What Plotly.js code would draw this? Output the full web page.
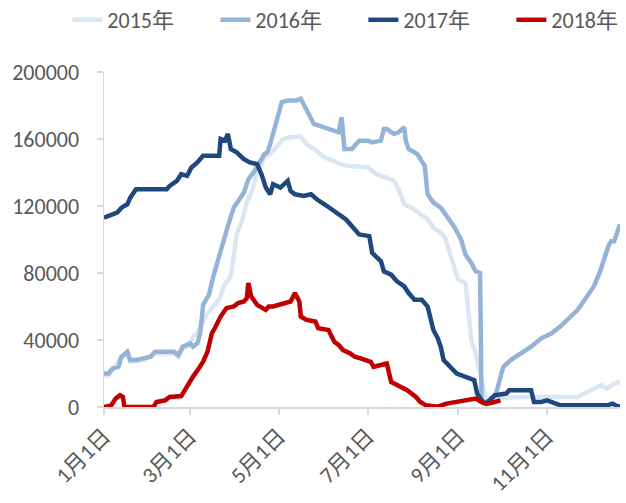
<!DOCTYPE html>
<html>
<head>
<meta charset="utf-8">
<script src="https://cdn.plot.ly/plotly-3.0.1.min.js"></script>
<style>html,body{margin:0;padding:0;background:#fff;}#chart{width:626px;height:503px;}</style>
</head>
<body>
<div id="chart"></div>
<script>
const seriesNames = ['2015年', '2016年', '2017年', '2018年'];
const tickVals = ['2017-01-01', '2017-03-01', '2017-05-01', '2017-07-01', '2017-09-01', '2017-11-01'];
const tickText = ['1月1日', '3月1日', '5月1日', '7月1日', '9月1日', '11月1日'];

const d15 = ['2017-01-01','2017-01-04','2017-01-07','2017-01-12','2017-01-17','2017-01-19','2017-01-28','2017-02-05','2017-02-18','2017-02-21','2017-02-24','2017-03-01','2017-03-03','2017-03-06','2017-03-09','2017-03-13','2017-03-17','2017-03-21','2017-03-24','2017-03-29','2017-03-31','2017-04-02','2017-04-06','2017-04-09','2017-04-13','2017-04-16','2017-04-18','2017-04-21','2017-04-25','2017-04-30','2017-05-04','2017-05-09','2017-05-16','2017-05-19','2017-05-23','2017-05-27','2017-06-01','2017-06-08','2017-06-12','2017-06-17','2017-07-01','2017-07-07','2017-07-14','2017-07-19','2017-07-22','2017-07-26','2017-07-31','2017-08-06','2017-08-11','2017-08-15','2017-08-20','2017-08-23','2017-08-26','2017-08-29','2017-09-01','2017-09-06','2017-09-08','2017-09-10','2017-09-13','2017-09-15','2017-09-18','2017-09-20','2017-09-22','2017-10-16','2017-11-10','2017-11-22','2017-11-24','2017-12-01','2017-12-05','2017-12-08','2017-12-12','2017-12-17','2017-12-21'];
const v15 = [19000,19000,22000,29000,32000,27000,28000,32000,32000,30000,35000,37000,42000,44000,50000,56000,60000,64000,72000,78000,90000,103000,112000,122000,130000,140500,143000,149000,151000,156000,160000,161000,161500,158000,155000,153000,149000,147000,145000,144000,143000,139000,137000,135000,130000,121000,119000,115000,112000,107000,104000,101000,92000,83000,76000,74000,58000,40000,32000,23000,12000,6000,5000,6000,6000,6000,7000,10000,12000,13000,11000,14000,15000];

const d16 = ['2017-01-01','2017-01-04','2017-01-07','2017-01-11','2017-01-13','2017-01-17','2017-01-19','2017-01-23','2017-01-28','2017-02-02','2017-02-05','2017-02-18','2017-02-21','2017-02-24','2017-03-01','2017-03-03','2017-03-06','2017-03-08','2017-03-10','2017-03-14','2017-03-17','2017-03-21','2017-03-24','2017-03-27','2017-03-31','2017-04-03','2017-04-07','2017-04-10','2017-04-14','2017-04-21','2017-04-23','2017-04-25','2017-04-27','2017-04-30','2017-05-03','2017-05-07','2017-05-13','2017-05-16','2017-05-19','2017-05-25','2017-06-01','2017-06-08','2017-06-11','2017-06-13','2017-06-15','2017-06-20','2017-06-25','2017-07-01','2017-07-04','2017-07-10','2017-07-12','2017-07-14','2017-07-19','2017-07-22','2017-07-26','2017-07-27','2017-07-29','2017-08-04','2017-08-09','2017-08-11','2017-08-15','2017-08-20','2017-08-25','2017-08-29','2017-09-03','2017-09-06','2017-09-10','2017-09-13','2017-09-16','2017-09-17','2017-09-22','2017-09-27','2017-09-30','2017-10-02','2017-10-07','2017-10-16','2017-10-21','2017-10-28','2017-11-04','2017-11-10','2017-11-15','2017-11-22','2017-11-26','2017-11-30','2017-12-03','2017-12-07','2017-12-10','2017-12-13','2017-12-15','2017-12-17','2017-12-19','2017-12-21'];
const v16 = [20000,20000,23000,24000,30000,33000,28000,28000,29000,30000,33000,33000,31000,36000,38000,36000,38000,44000,61000,67000,78000,90000,101000,108000,119000,123000,128000,136000,140500,151000,152000,157000,163000,171000,182000,183000,183000,184000,179000,169000,167000,165000,164000,173000,154000,154000,159000,159000,158000,159000,166000,166000,163000,164000,167000,159000,154000,151000,144000,127000,122000,119000,113000,108000,100000,91000,86000,81000,80000,3500,3000,8000,18000,24000,28000,33000,36000,41000,44000,48000,52000,58000,63000,68000,72000,80000,88000,96000,99000,99000,104000,109000];

const d17 = ['2017-01-01','2017-01-04','2017-01-06','2017-01-10','2017-01-13','2017-01-17','2017-01-19','2017-01-23','2017-02-13','2017-02-15','2017-02-20','2017-02-23','2017-02-27','2017-03-02','2017-03-06','2017-03-10','2017-03-21','2017-03-22','2017-03-25','2017-03-27','2017-03-29','2017-04-02','2017-04-07','2017-04-11','2017-04-16','2017-04-19','2017-04-22','2017-04-25','2017-04-27','2017-05-02','2017-05-07','2017-05-09','2017-05-12','2017-05-18','2017-05-23','2017-05-27','2017-06-03','2017-06-10','2017-06-16','2017-06-20','2017-06-25','2017-07-02','2017-07-04','2017-07-10','2017-07-12','2017-07-17','2017-07-21','2017-07-26','2017-07-29','2017-08-02','2017-08-07','2017-08-11','2017-08-15','2017-08-18','2017-08-20','2017-08-22','2017-08-27','2017-08-31','2017-09-06','2017-09-12','2017-09-14','2017-09-18','2017-09-20','2017-09-26','2017-10-04','2017-10-06','2017-10-21','2017-10-23','2017-10-28','2017-11-01','2017-11-07','2017-11-10','2017-12-12','2017-12-16','2017-12-19','2017-12-21'];
const v17 = [113000,114000,114000,116000,119000,121000,125000,130000,130000,132000,135000,139000,138000,143000,146000,150000,150000,160000,159000,163000,154000,152000,148000,146000,145000,139000,131000,127000,133000,131000,135000,129000,127000,126000,127000,124000,120000,116000,112000,108000,103000,102000,92000,87000,81000,79000,75000,72000,68000,64000,64000,60000,46000,41000,36000,28000,24000,20000,18000,16000,8000,3000,2000,7000,8000,10000,10000,3000,3000,4000,2000,1000,1000,2000,500,500];

const d18 = ['2017-01-01','2017-01-06','2017-01-09','2017-01-12','2017-01-14','2017-01-15','2017-02-04','2017-02-06','2017-02-12','2017-02-15','2017-02-23','2017-02-26','2017-02-28','2017-03-03','2017-03-07','2017-03-10','2017-03-13','2017-03-15','2017-03-16','2017-03-18','2017-03-22','2017-03-26','2017-03-31','2017-04-03','2017-04-07','2017-04-09','2017-04-10','2017-04-12','2017-04-16','2017-04-22','2017-04-24','2017-04-27','2017-05-04','2017-05-09','2017-05-12','2017-05-15','2017-05-16','2017-05-20','2017-05-26','2017-05-28','2017-06-04','2017-06-08','2017-06-11','2017-06-14','2017-06-19','2017-06-22','2017-06-26','2017-07-03','2017-07-05','2017-07-14','2017-07-17','2017-07-21','2017-07-28','2017-08-03','2017-08-06','2017-08-10','2017-08-18','2017-08-24','2017-08-31','2017-09-07','2017-09-13','2017-09-18','2017-09-21','2017-09-26','2017-09-30'];
const v18 = [0,1000,5000,7000,6000,0,0,3000,4000,6000,6500,11000,14000,18000,23000,27000,33000,40000,44000,47000,54000,59000,60000,62000,63000,65000,74000,66000,61000,58000,60000,60000,62000,63000,68000,63000,54000,52000,51000,47000,46000,39000,37000,34000,32000,30000,29000,27000,24000,26000,15000,13000,10000,6000,3000,1000,200,2000,3000,4000,5000,2500,2000,3000,4000];

const colors = ['#DCE6F2', '#95B3D7', '#1F497D', '#C00000'];
const xs = [d15, d16, d17, d18];
const ys = [v15, v16, v17, v18];

const FONT = 'Calibri, Carlito, "Noto Sans CJK SC", sans-serif';
const traces = seriesNames.map((n, i) => ({
  type: 'scatter', mode: 'lines', name: n,
  x: xs[i], y: ys[i],
  line: {color: colors[i], width: 4.5, shape: 'linear'},
  hoverinfo: 'x+y'
}));

const layout = {
  width: 626, height: 503,
  margin: {l: 104, r: 6, t: 72, b: 96, pad: 0, autoexpand: false},
  paper_bgcolor: '#ffffff', plot_bgcolor: '#ffffff',
  font: {family: FONT, size: 21, color: '#595959'},
  showlegend: true,
  legend: {
    orientation: 'h', x: -0.071, xanchor: 'left', y: 1.218, yanchor: 'top',
    entrywidth: 103, entrywidthmode: 'pixels',
    font: {family: FONT, size: 22, color: '#595959'},
    bgcolor: 'rgba(0,0,0,0)', borderwidth: 0, traceorder: 'normal'
  },
  xaxis: {
    type: 'date', range: ['2017-01-01', '2017-12-21'],
    tickmode: 'array', tickvals: tickVals, ticktext: tickText,
    tickangle: -45, ticks: 'outside', ticklen: 6, tickcolor: '#D9D9D9', tickwidth: 1.5,
    showline: true, linecolor: '#D9D9D9', linewidth: 1.5,
    showgrid: false, zeroline: false,
    tickfont: {family: FONT, size: 22, color: '#595959'}
  },
  yaxis: {
    range: [0, 200000], tickmode: 'linear', tick0: 0, dtick: 40000,
    tickformat: 'd', ticks: 'outside', ticklen: 6, tickcolor: '#D9D9D9', tickwidth: 1.5,
    showline: true, linecolor: '#D9D9D9', linewidth: 1.5,
    showgrid: false, zeroline: false, ticklabelstandoff: 13,
    tickfont: {family: FONT, size: 22, color: '#595959'}
  }
};

Plotly.newPlot('chart', traces, layout, {staticPlot: true, displayModeBar: false});
</script>
</body>
</html>
